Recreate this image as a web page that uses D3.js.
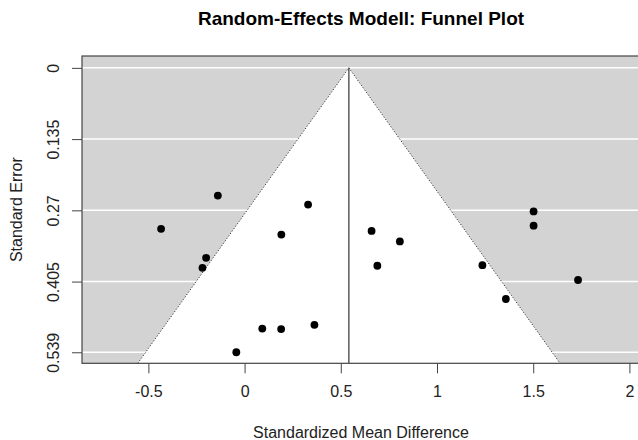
<!DOCTYPE html>
<html><head><meta charset="utf-8">
<script src="https://cdn.jsdelivr.net/npm/d3@7"></script>
<style>body{margin:0;background:#fff}svg{display:block;font-family:"Liberation Sans",Arial,sans-serif}</style>
</head><body><svg id="c" width="638" height="440"></svg>
<script>
// Data
const studyNames = ["S1","S2","S3","S4","S5","S6","S7","S8","S9","S10","S11","S12","S13","S14","S15","S16","S17","S18"];
const effectSizes = [-0.139,-0.434,-0.200,-0.219,-0.043,0.092,0.190,0.363,0.330,0.191,0.660,0.807,0.690,1.236,1.358,1.502,1.502,1.733];
const standardErrors = [0.242,0.305,0.360,0.379,0.539,0.494,0.495,0.487,0.259,0.316,0.309,0.329,0.375,0.374,0.438,0.272,0.299,0.402];
const pooledEstimate = 0.542;
const xTicks = [-0.5,0,0.5,1,1.5,2];
const xTickLabels = ["-0.5","0","0.5","1","1.5","2"];
const yTicks = [0,0.135,0.27,0.405,0.539];
const yTickLabels = ["0","0.135","0.27","0.405","0.539"];
const yLimits = [-0.0225, 0.5599];
const xLimits = [-0.845, 2.055];

(function(){
const svg = d3.select("#c");
const pL = 82, pR = 640, pT = 56, pB = 363.3;
const x = d3.scaleLinear().domain(xLimits).range([pL, pR]);
const y = d3.scaleLinear().domain(yLimits).range([pT, pB]);
const FF = "Liberation Sans, Arial, sans-serif";

svg.append("rect").attr("x", pL).attr("y", pT).attr("width", pR-pL).attr("height", pB-pT).attr("fill", "#d3d3d3");
svg.append("g").selectAll("line").data(yTicks).join("line")
  .attr("x1", pL).attr("x2", pR).attr("y1", d=>y(d)).attr("y2", d=>y(d))
  .attr("stroke", "#fff").attr("stroke-width", 1.5);
const seMax = yLimits[1];
const funnelPts = [[pooledEstimate - 1.96*seMax, seMax],[pooledEstimate, 0],[pooledEstimate + 1.96*seMax, seMax]];
const ln = d3.line().x(d=>x(d[0])).y(d=>y(d[1]));
svg.append("path").attr("d", ln(funnelPts) + "Z").attr("fill", "#fff");
svg.append("path").attr("d", ln(funnelPts))
  .attr("fill", "none").attr("stroke", "#333").attr("stroke-width", 1).attr("stroke-dasharray", "1.2,1.8");
svg.append("line").attr("x1", x(pooledEstimate)).attr("x2", x(pooledEstimate)).attr("y1", y(0)).attr("y2", y(seMax))
  .attr("stroke", "#333").attr("stroke-width", 1.2);

svg.append("rect").attr("x", pL).attr("y", pT).attr("width", pR-pL).attr("height", pB-pT)
  .attr("fill", "none").attr("stroke", "#444").attr("stroke-width", 1.2);

svg.append("g").selectAll("circle").data(effectSizes).join("circle")
  .attr("cx", d=>x(d)).attr("cy", (d,i)=>y(standardErrors[i])).attr("r", 3.9).attr("fill", "#000");

const xAxis = d3.axisBottom(x).tickValues(xTicks).tickFormat((d,i)=>xTickLabels[i]).tickSize(10).tickPadding(12);
const gx = svg.append("g").attr("transform", `translate(0,${pB})`).call(xAxis);
gx.select(".domain").remove();
gx.selectAll("line").attr("stroke", "#444");
gx.selectAll("text").attr("font-size", 16).attr("fill", "#222").style("font-family", FF);

const yAxis = d3.axisLeft(y).tickValues(yTicks).tickFormat((d,i)=>yTickLabels[i]).tickSize(10).tickPadding(0);
const gy = svg.append("g").attr("transform", `translate(${pL},0)`).call(yAxis);
gy.select(".domain").remove();
gy.selectAll("line").attr("stroke", "#444");
gy.selectAll("text").attr("font-size", 16).attr("fill", "#222").style("font-family", FF)
  .attr("x", null).attr("dy", null).attr("text-anchor", "middle")
  .attr("transform", "translate(-23,0) rotate(-90)");

svg.append("text").attr("x", (pL+pR)/2).attr("y", 25).attr("text-anchor", "middle")
  .attr("font-size", 19).attr("font-weight", "bold").attr("fill", "#000").text("Random-Effects Modell: Funnel Plot");
svg.append("text").attr("x", (pL+pR)/2).attr("y", 438).attr("text-anchor", "middle")
  .attr("font-size", 16).attr("fill", "#222").text("Standardized Mean Difference");
svg.append("text").attr("transform", `translate(22,${(pT+pB)/2}) rotate(-90)`).attr("text-anchor", "middle")
  .attr("font-size", 16).attr("fill", "#222").text("Standard Error");
})();
</script></body></html>
